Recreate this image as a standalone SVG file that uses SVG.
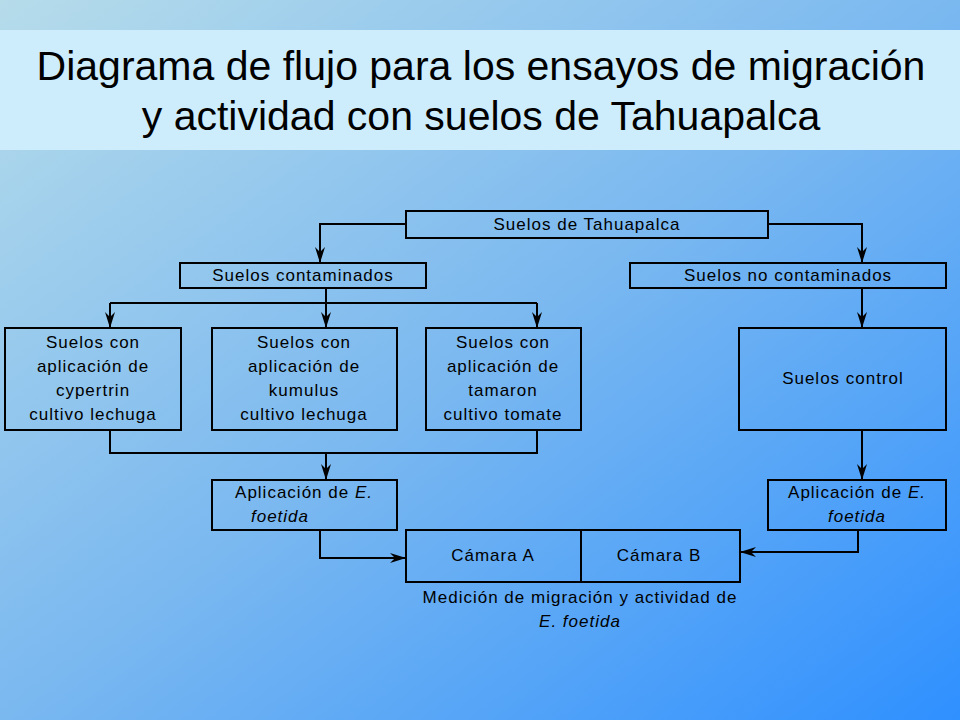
<svg xmlns="http://www.w3.org/2000/svg" width="960" height="720" viewBox="0 0 960 720">
<defs>
<linearGradient id="bg" x1="0" y1="0" x2="1" y2="1">
<stop offset="0" stop-color="#b6dcea"/>
<stop offset="0.5" stop-color="#7ab8f0"/>
<stop offset="1" stop-color="#2f90ff"/>
</linearGradient>
<marker id="ar" viewBox="0 0 16 10" refX="16" refY="5" markerWidth="16" markerHeight="10" markerUnits="userSpaceOnUse" orient="auto">
<path d="M0,0 L16,5 L0,10 L5,5 Z" fill="#000"/>
</marker>
<style>
.b{fill:none;stroke:#000;stroke-width:2}
.c{fill:none;stroke:#000;stroke-width:2;marker-end:url(#ar)}
text{font-family:"Liberation Sans",Arial,sans-serif;font-size:17px;fill:#000;text-anchor:middle;letter-spacing:1px}
.t{font-size:41px;letter-spacing:0}
</style>
</defs>
<rect width="960" height="720" fill="url(#bg)"/>
<rect x="0" y="30" width="960" height="120" fill="#cdedfd"/>
<text class="t" x="481" y="80">Diagrama de flujo para los ensayos de migración</text>
<text class="t" x="481" y="130">y actividad con suelos de Tahuapalca</text>
<g id="connectors">
<path class="c" d="M406,224 H320 V263"/>
<path class="c" d="M768,224 H862 V263"/>
<path class="b" d="M326,288 V303 M110,303 H537"/>
<path class="c" d="M110,303 V328"/>
<path class="c" d="M326,303 V328"/>
<path class="c" d="M537,303 V328"/>
<path class="c" d="M862,288 V328"/>
<path class="b" d="M110,430 V453 H537 V430"/>
<path class="c" d="M326,453 V480"/>
<path class="c" d="M862,430 V480"/>
<path class="c" d="M320,530 V558 H406"/>
<path class="c" d="M858,530 V552 H740"/>
</g>
<g id="n1"><rect class="b" x="406" y="211" width="362" height="27"/><text x="587" y="230">Suelos de Tahuapalca</text></g>
<g id="n2"><rect class="b" x="180" y="263" width="246" height="25"/><text x="303" y="281">Suelos contaminados</text></g>
<g id="n3"><rect class="b" x="630" y="263" width="316" height="25"/><text x="788" y="281">Suelos no contaminados</text></g>
<g id="n4"><rect class="b" x="5" y="328" width="176" height="102"/><text x="93" y="348">Suelos con</text><text x="93" y="372">aplicación de</text><text x="93" y="396">cypertrin</text><text x="93" y="420">cultivo lechuga</text></g>
<g id="n5"><rect class="b" x="212" y="328" width="185" height="102"/><text x="304" y="348">Suelos con</text><text x="304" y="372">aplicación de</text><text x="304" y="396">kumulus</text><text x="304" y="420">cultivo lechuga</text></g>
<g id="n6"><rect class="b" x="426" y="328" width="155" height="102"/><text x="503" y="348">Suelos con</text><text x="503" y="372">aplicación de</text><text x="503" y="396">tamaron</text><text x="503" y="420">cultivo tomate</text></g>
<g id="n7"><rect class="b" x="739" y="328" width="207" height="102"/><text x="843" y="384">Suelos control</text></g>
<g id="n8"><rect class="b" x="212" y="480" width="185" height="50"/><text x="304" y="498">Aplicación de <tspan font-style="italic">E.</tspan></text><text x="280" y="522" font-style="italic">foetida</text></g>
<g id="n9"><rect class="b" x="768" y="480" width="178" height="50"/><text x="857" y="498">Aplicación de <tspan font-style="italic">E.</tspan></text><text x="857" y="522" font-style="italic">foetida</text></g>
<g id="n10"><rect class="b" x="406" y="530" width="334" height="52"/><line class="b" x1="581" y1="530" x2="581" y2="582"/><text x="493" y="561">Cámara A</text><text x="659" y="561">Cámara B</text>
<text x="580" y="603">Medición de migración y actividad de</text><text x="580" y="627" font-style="italic">E. foetida</text></g>
</svg>
